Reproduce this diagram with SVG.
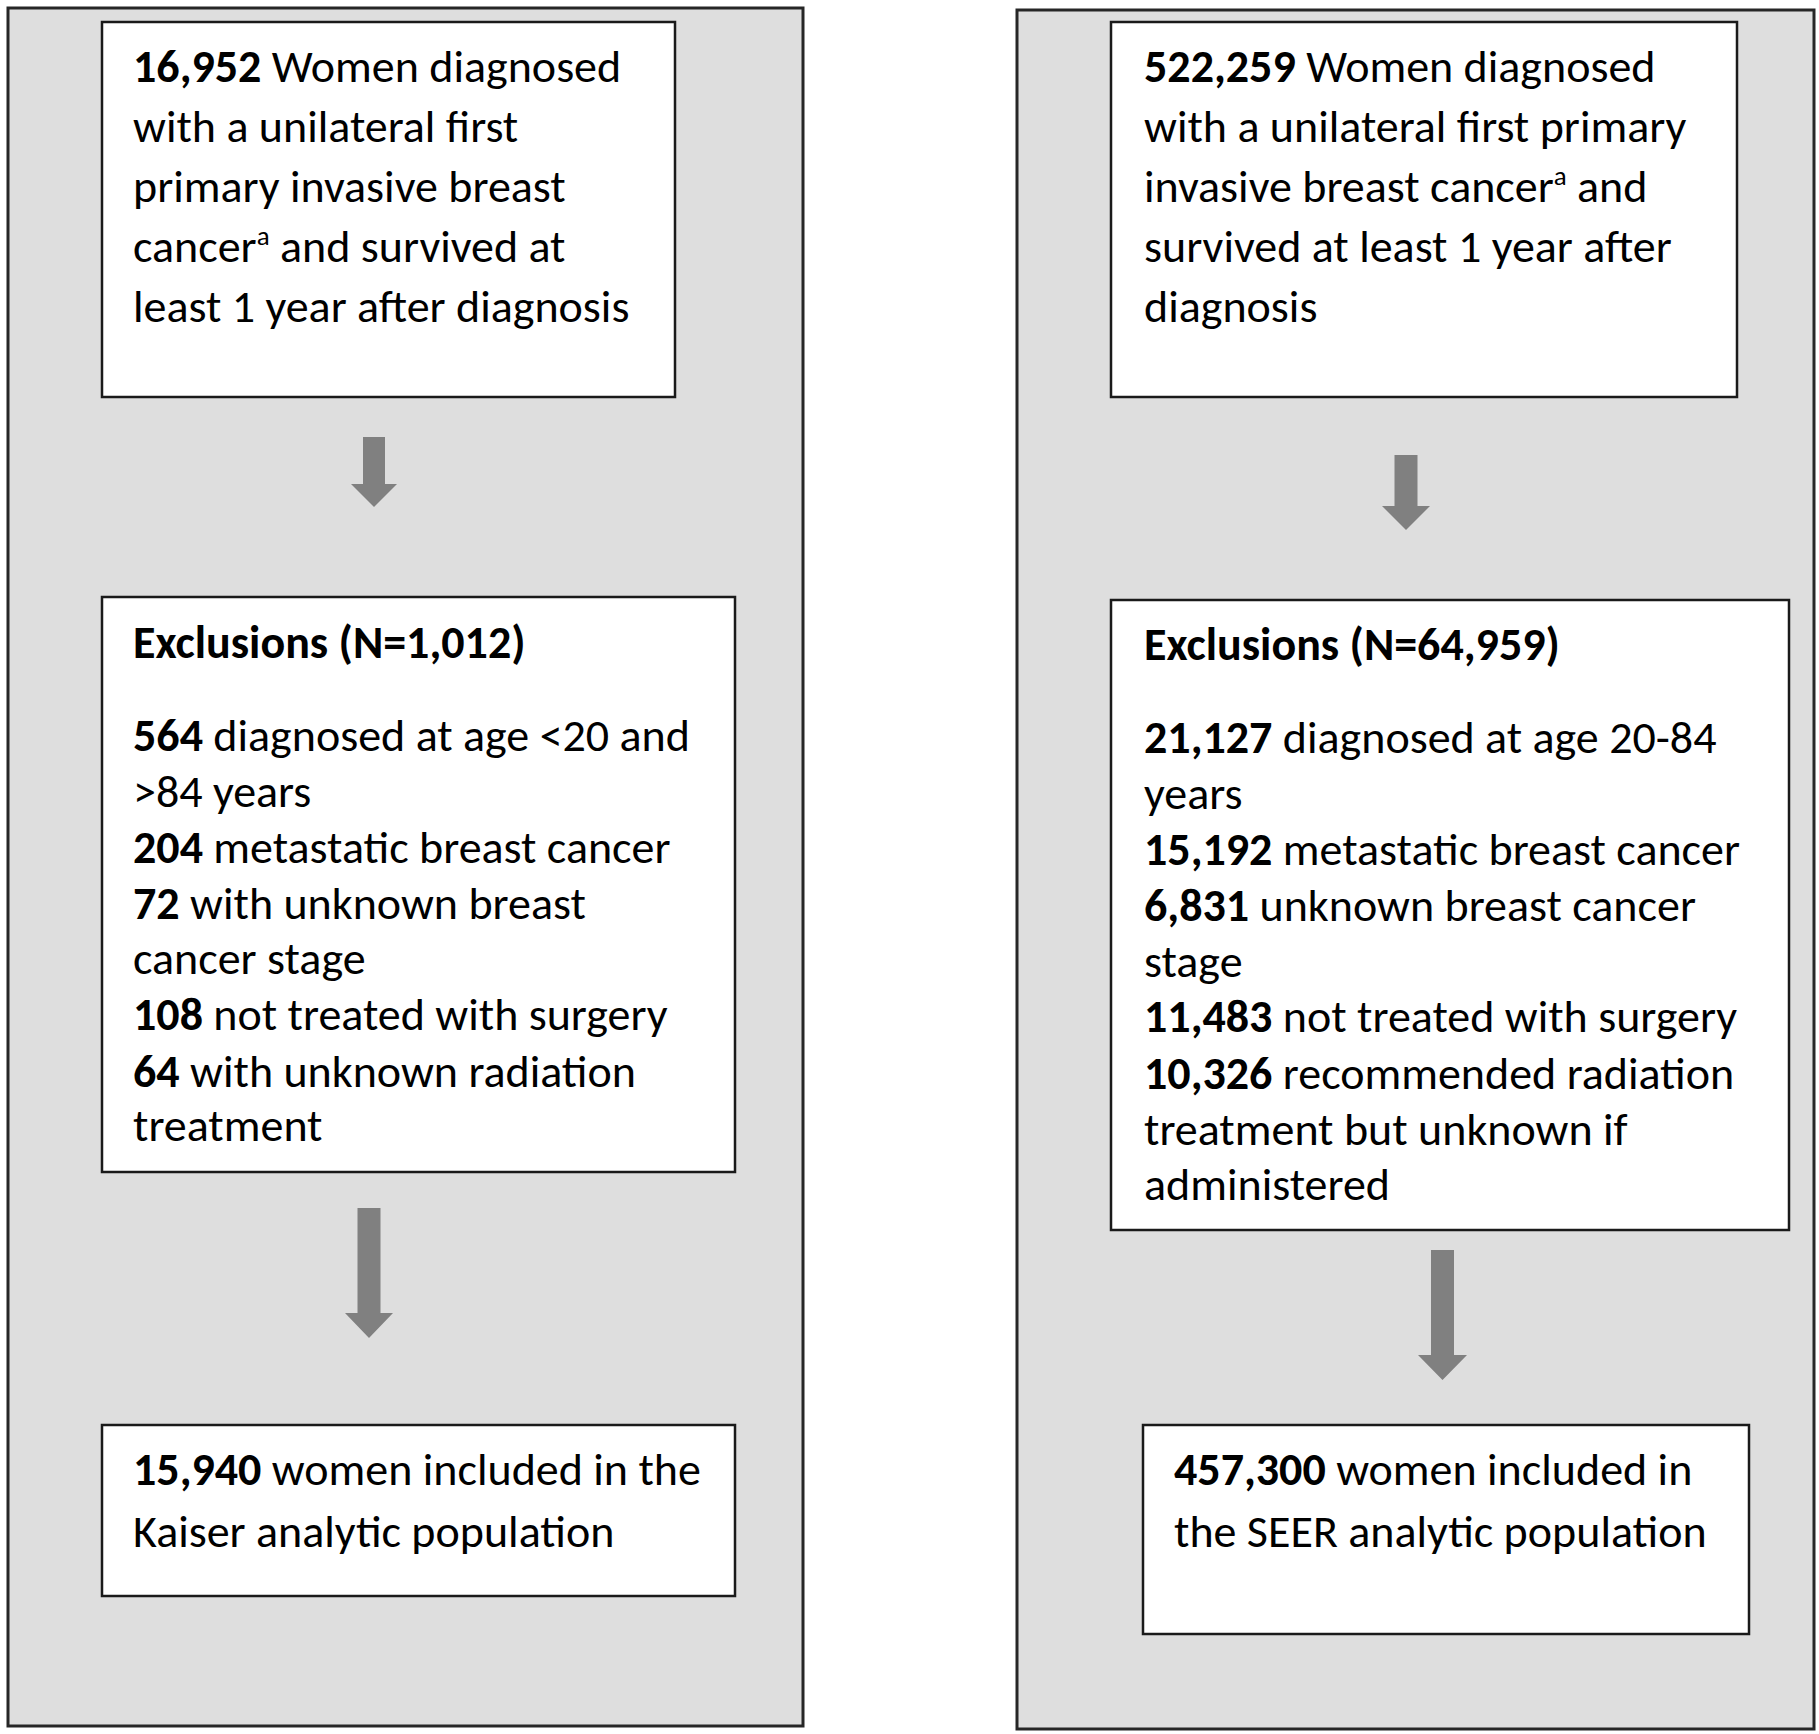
<svg xmlns="http://www.w3.org/2000/svg" width="1819" height="1734" viewBox="0 0 1819 1734">
<style>
.bg{fill:#ffffff}
.panel{fill:#dedede;stroke:#262626;stroke-width:3}
.box{fill:#ffffff;stroke:#1a1a1a;stroke-width:2.5}
.arrow{fill:#808080}
text{font-family:Carlito,Lato,"Open Sans",sans-serif;font-size:46px;fill:#000000}
.b{font-weight:bold}
.sup{font-size:27px}
</style>
<rect class="bg" x="0" y="0" width="1819" height="1734"/>
<g id="panel-kaiser"><rect class="panel" x="8" y="8" width="795" height="1718"/></g>
<g id="panel-seer"><rect class="panel" x="1017" y="10" width="797" height="1719"/></g>

<g id="connectors">
<polygon class="arrow" points="363,437 385,437 385,484 397,484 374,507 351,484 363,484"/>
<polygon class="arrow" points="357.5,1208 380.5,1208 380.5,1313 393,1313 369,1338 345,1313 357.5,1313"/>
<polygon class="arrow" points="1394.5,455 1417.5,455 1417.5,506 1430,506 1406,530 1382,506 1394.5,506"/>
<polygon class="arrow" points="1431,1250 1454,1250 1454,1355 1467,1355 1442.5,1380 1418,1355 1431,1355"/>
</g>

<g id="kaiser-initial">
<rect class="box" x="102" y="22" width="573" height="375"/>
<text x="133" y="82"><tspan class="b">16,952</tspan> Women diagnosed</text>
<text x="133" y="142">with a unilateral first</text>
<text x="133" y="202">primary invasive breast</text>
<text x="133" y="262">cancer<tspan class="sup" dy="-17">a</tspan><tspan dy="17"> and survived at</tspan></text>
<text x="133" y="322">least 1 year after diagnosis</text>
</g>

<g id="kaiser-exclusions">
<rect class="box" x="102" y="597" width="633" height="575"/>
<text x="133" y="658" class="b">Exclusions (N=1,012)</text>
<text x="133" y="751"><tspan class="b">564</tspan> diagnosed at age &lt;20 and</text>
<text x="133" y="807">&gt;84 years</text>
<text x="133" y="863"><tspan class="b">204</tspan> metastatic breast cancer</text>
<text x="133" y="919"><tspan class="b">72</tspan> with unknown breast</text>
<text x="133" y="974">cancer stage</text>
<text x="133" y="1030"><tspan class="b">108</tspan> not treated with surgery</text>
<text x="133" y="1087"><tspan class="b">64</tspan> with unknown radiation</text>
<text x="133" y="1141">treatment</text>
</g>

<g id="kaiser-final">
<rect class="box" x="102" y="1425" width="633" height="171"/>
<text x="133" y="1485"><tspan class="b">15,940</tspan> women included in the</text>
<text x="133" y="1547">Kaiser analytic population</text>
</g>

<g id="seer-initial">
<rect class="box" x="1111" y="22" width="626" height="375"/>
<text x="1144" y="82"><tspan class="b">522,259</tspan> Women diagnosed</text>
<text x="1144" y="142">with a unilateral first primary</text>
<text x="1144" y="202">invasive breast cancer<tspan class="sup" dy="-17">a</tspan><tspan dy="17"> and</tspan></text>
<text x="1144" y="262">survived at least 1 year after</text>
<text x="1144" y="322">diagnosis</text>
</g>

<g id="seer-exclusions">
<rect class="box" x="1111" y="600" width="678" height="630"/>
<text x="1144" y="660" class="b">Exclusions (N=64,959)</text>
<text x="1144" y="753"><tspan class="b">21,127</tspan> diagnosed at age 20-84</text>
<text x="1144" y="809">years</text>
<text x="1144" y="865"><tspan class="b">15,192</tspan> metastatic breast cancer</text>
<text x="1144" y="921"><tspan class="b">6,831</tspan> unknown breast cancer</text>
<text x="1144" y="977">stage</text>
<text x="1144" y="1032"><tspan class="b">11,483</tspan> not treated with surgery</text>
<text x="1144" y="1089"><tspan class="b">10,326</tspan> recommended radiation</text>
<text x="1144" y="1145">treatment but unknown if</text>
<text x="1144" y="1200">administered</text>
</g>

<g id="seer-final">
<rect class="box" x="1143" y="1425" width="606" height="209"/>
<text x="1174" y="1485"><tspan class="b">457,300</tspan> women included in</text>
<text x="1174" y="1547">the SEER analytic population</text>
</g>
</svg>
